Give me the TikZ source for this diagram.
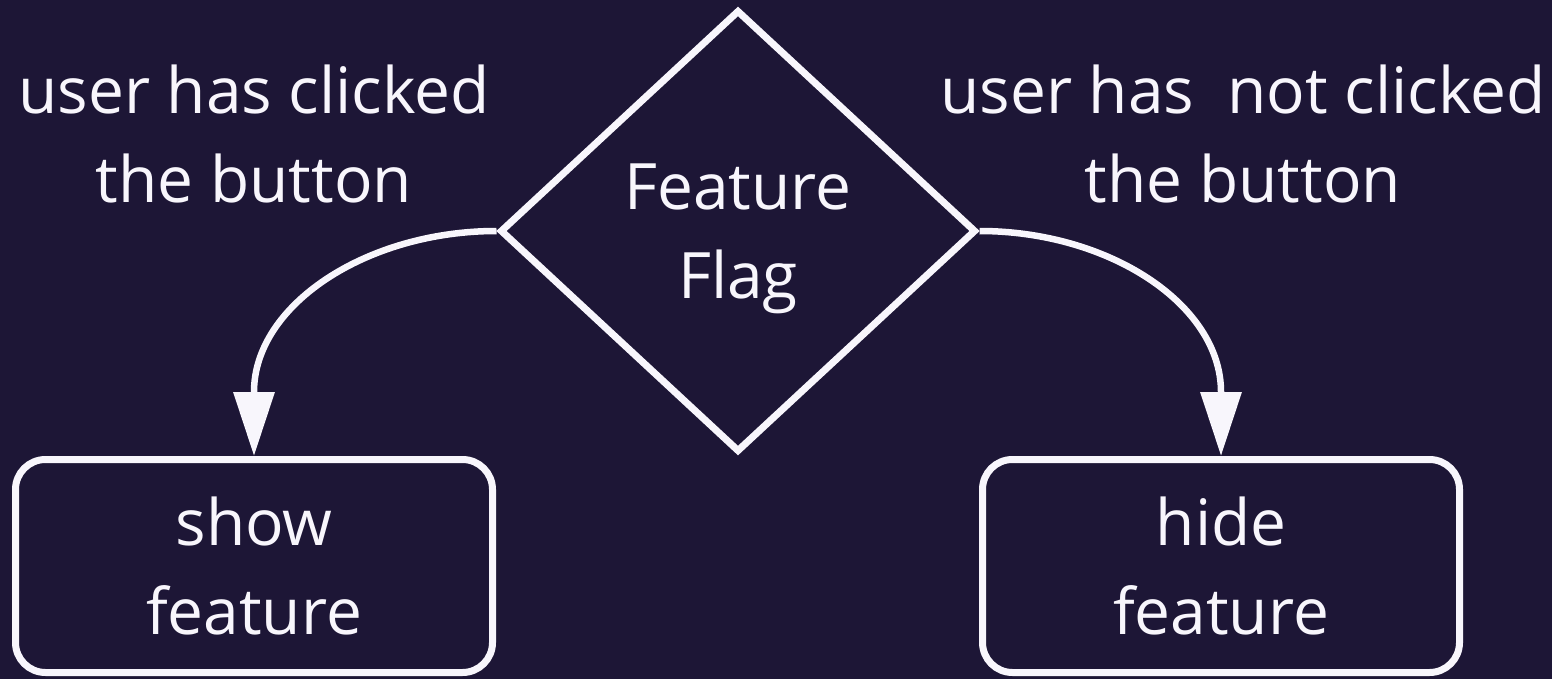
\documentclass[tikz,border=0pt]{standalone}
\usepackage{fontspec}
\setmainfont{Open Sans}
\usepackage{xcolor}
\usepackage{tikz}
\usetikzlibrary{positioning}
\usetikzlibrary{shapes.geometric}
\usetikzlibrary{arrows.meta}

\definecolor{bgnavy}{RGB}{29,22,54}
\definecolor{chalk}{RGB}{248,246,252}

\begin{document}
\begin{tikzpicture}
  [
    x=1pt, y=-1pt,
    every node/.style={
       text=chalk,
       font=\fontsize{64}{89}\selectfont,
       align=center,
       inner sep=0pt
    },
    decision/.style={
       diamond,
       draw=chalk,
       line width=7pt,
       minimum width=476pt,
       minimum height=442pt,
       text depth=0pt
    },
    outcome/.style={
       rectangle,
       draw=chalk,
       line width=7pt,
       rounded corners=30pt,
       minimum width=477pt,
       minimum height=213pt
    },
    branch/.style={
       draw=chalk,
       line width=6.5pt,
       -{Triangle[length=64pt, width=40pt]}
    }
  ]
  \fill [bgnavy] (0,0) rectangle (1552,679);

  \node (flag) at ( 738, 231) [decision] {Feature\\Flag};

  \node (show) at ( 254, 566) [outcome]  {show\\feature};
  \node (hide) at (1221, 566) [outcome]  {hide\\feature};

  \node (lblClicked)    at ( 254, 134) {user has clicked\\the button};
  \node (lblNotClicked) at (1243, 134) {user has\ \ not clicked\\the button};

  % curve down to the head, last straight bit is eaten by the tip
  \draw [branch] (flag.west) .. controls +(-130,0) and +(0,-87) .. ([yshift=64pt]show.north) -- (show.north);
  \draw [branch] (flag.east) .. controls +( 130,0) and +(0,-87) .. ([yshift=64pt]hide.north) -- (hide.north);
\end{tikzpicture}
\end{document}
